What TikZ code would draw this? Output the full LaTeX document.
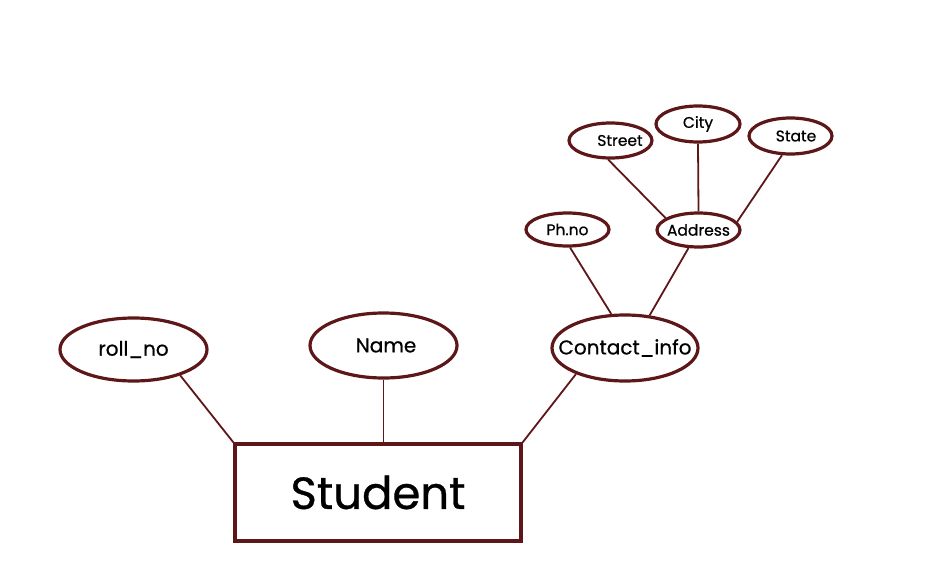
\documentclass[tikz,border=0pt]{standalone}
\usepackage{fontspec}
\setmainfont{Poppins}[BoldFont=Poppins, BoldFeatures={FakeBold=0.7}]
\usetikzlibrary{shapes.geometric}
\definecolor{maroon}{HTML}{5E1719}
\tikzset{
  attr/.style={draw=maroon, line width=3.2pt, ellipse, inner sep=0pt, text=black},
  bigattr/.style={attr, font=\fontsize{20}{22}\selectfont\bfseries},
  smallattr/.style={attr, font=\fontsize{15.5}{17}\selectfont\bfseries},
  entity/.style={draw=maroon, line width=3.2pt, rectangle, inner sep=0pt, text=black,
    font=\fontsize{45}{48}\selectfont\bfseries},
  link/.style={draw=maroon, line width=1.8pt}
}
\begin{document}
\begin{tikzpicture}[x=1pt,y=-1pt]
\useasboundingbox (0,0) rectangle (952,564);
\node[entity, minimum width=286pt, minimum height=97pt] (stu) at (378,492.5) {Student};
\node[bigattr, minimum width=147pt, minimum height=63pt] (roll) at (133.5,349.5) {roll\_no};
\node[bigattr, minimum width=147pt, minimum height=65pt] (name) at (383.5,345.5) {\makebox[0pt][c]{\hspace*{5pt}Name}};
\node[bigattr, minimum width=146pt, minimum height=66pt] (ci) at (625,348) {\makebox[0pt][c]{Contact\_info}};
\node[smallattr, minimum width=83pt, minimum height=33pt] (ph) at (567.5,229.5) {Ph.no};
\node[smallattr, minimum width=83pt, minimum height=34pt] (addr) at (698.5,230) {\makebox[0pt][c]{Address}};
\node[smallattr, minimum width=83pt, minimum height=35pt] (street) at (610.5,140.5) {\makebox[0pt][c]{\hspace*{19pt}Street}};
\node[smallattr, minimum width=84pt, minimum height=36pt] (city) at (698,124) {City};
\node[smallattr, minimum width=83pt, minimum height=36pt] (state) at (790.5,136) {\makebox[0pt][c]{\hspace*{11pt}State}};
\draw[link] (roll.-29) -- (stu.north west);
\draw[link] (name.south) -- (name.south |- stu.north);
\draw[link] (ci.208) -- (stu.north east);
\draw[link] (ph.-82) -- (ci.112);
\draw[link] (addr.-119) -- (ci.53);
\draw[link] (street.-97) -- (addr.160);
\draw[link] (city.south) -- (addr.north);
\draw[link] (state.-114) -- (addr.12);
\end{tikzpicture}
\end{document}
